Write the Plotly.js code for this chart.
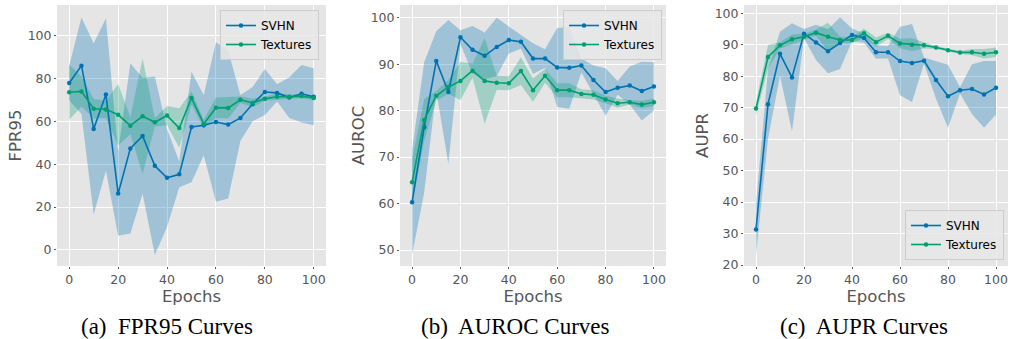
<!DOCTYPE html>
<html>
<head>
<meta charset="utf-8">
<script src="https://cdn.plot.ly/plotly-3.0.1.min.js"></script>
<style>html,body{margin:0;padding:0;background:#fff;}#chart{width:1011px;height:339px;}</style>
</head>
<body>
<div id="chart"></div>
<script>
const epochs = [0,5,10,15,20,25,30,35,40,45,50,55,60,65,70,75,80,85,90,95,100];

const fprSvhn     = [77.9,86.0,56.5,72.5,26.3,47.4,53.2,39.3,33.7,35.3,57.4,58.2,59.7,58.5,61.6,68.1,73.7,73.3,71.1,72.9,71.5];
const fprSvhnStd  = [8,22.5,40,35.5,19.6,39.7,27,41.6,22.8,6,25.8,14,37.2,34.5,10.7,8,10.7,4,9.5,13.4,13.3];
const fprTex      = [73.6,74.0,65.9,65.6,63.1,58.0,62.4,59.6,62.7,56.9,70.9,58.8,66.4,66.3,70.1,68.6,70.6,71.5,71.5,71.8,70.9];
const fprTexStd   = [12.8,7,4.6,4,14.3,4,26.9,2,4.5,9.2,3,2,4.8,5,1.5,2,1,1.5,1,1,1];

const aurocSvhn    = [60.3,76.4,90.7,84.0,95.8,93.1,91.8,93.7,95.2,94.8,91.2,91.2,89.3,89.2,89.7,86.6,84.0,84.9,85.4,84.2,85.2];
const aurocSvhnStd = [11.3,14,6.4,15.5,1.5,5.1,5,6.3,2.9,1.5,3.3,2,8.5,8.8,1.5,3.1,5.1,1.5,4.1,6.3,5.2];
const aurocTex     = [64.6,78.0,83.2,85.1,86.4,88.6,86.4,86.0,85.9,88.5,84.4,87.5,84.4,84.4,83.6,83.4,82.4,81.6,81.8,81.3,81.8];
const aurocTexStd  = [5,4.5,1,1.5,4.1,1.5,9.2,1.5,1.5,3,2.5,1.5,1.5,1.5,1,1,0.8,1,0.5,0.8,0.8];

const auprSvhn    = [31.3,71.1,87.1,79.6,93.5,90.7,87.9,90.5,93.1,92.1,87.6,87.6,84.8,84.2,84.9,78.8,73.6,75.5,75.9,74.2,76.3];
const auprSvhnStd = [8.1,11,7,17.2,1.5,5.6,7,8.2,2,1.5,2.1,2,10.9,12.4,1,6,10,1,7.9,10.6,8.5];
const auprTex     = [69.7,86.1,89.8,91.7,92.5,93.8,92.5,91.5,91.5,93.6,90.8,92.8,90.4,90.0,89.8,89.1,88.2,87.5,87.6,87.1,87.6];
const auprTexStd  = [2,3.8,1,1.5,1,1,4.5,1,1,1.5,1.5,1,1.5,2,1,0.5,0.5,0.5,1,1.5,1.5];

const seriesNames = ['SVHN', 'Textures'];
const captions = ['(a)  FPR95 Curves', '(b)  AUROC Curves', '(c)  AUPR Curves'];
const yTitles = ['FPR95', 'AUROC', 'AUPR'];

const BLUE = '#0072B2', GREEN = '#009E73';
const BLUE_FILL = 'rgba(0,114,178,0.3)', GREEN_FILL = 'rgba(0,158,115,0.3)';

const panels = [
  {mean:[fprSvhn, fprTex], std:[fprSvhnStd, fprTexStd]},
  {mean:[aurocSvhn, aurocTex], std:[aurocSvhnStd, aurocTexStd]},
  {mean:[auprSvhn, auprTex], std:[auprSvhnStd, auprTexStd]}
];

const traces = [];
panels.forEach((p, i) => {
  const xa = i === 0 ? 'x' : 'x' + (i + 1);
  const ya = i === 0 ? 'y' : 'y' + (i + 1);
  const lg = i === 0 ? 'legend' : 'legend' + (i + 1);
  const cols = [BLUE, GREEN], fills = [BLUE_FILL, GREEN_FILL];
  [0, 1].forEach(s => {
    const up = p.mean[s].map((v, k) => v + p.std[s][k]);
    const lo = p.mean[s].map((v, k) => v - p.std[s][k]);
    traces.push({
      x: epochs.concat(epochs.slice().reverse()),
      y: up.concat(lo.slice().reverse()),
      xaxis: xa, yaxis: ya, type: 'scatter', mode: 'lines',
      fill: 'toself', fillcolor: fills[s], line: {width: 0, color: fills[s]},
      hoverinfo: 'skip', showlegend: false
    });
  });
  [0, 1].forEach(s => {
    traces.push({
      x: epochs, y: p.mean[s], xaxis: xa, yaxis: ya, type: 'scatter',
      mode: 'lines+markers', name: seriesNames[s], legend: lg,
      line: {color: cols[s], width: 1.6}, marker: {color: cols[s], size: 4.5}
    });
  });
});

const W = 1011, H = 339;
const px = (a, b) => [a / W, b / W];
const py = (top, bot) => [(H - bot) / H, (H - top) / H];

const tickFont = {family: 'DejaVu Sans', size: 12.5, color: '#555555'};
const titleFont = {family: 'DejaVu Sans', size: 16.5, color: '#555555'};
const baseX = {
  range: [-5, 105], tickvals: [0, 20, 40, 60, 80, 100], showgrid: true, gridcolor: '#FFFFFF', gridwidth: 1,
  zeroline: false, showline: false, ticks: 'outside', ticklen: 2, tickcolor: '#555555', tickfont: tickFont,
  title: {text: 'Epochs', font: titleFont, standoff: 0}
};
const baseY = {
  showgrid: true, gridcolor: '#FFFFFF', gridwidth: 1, zeroline: false, showline: false,
  ticks: 'outside', ticklen: 2, tickcolor: '#555555', tickfont: tickFont
};

const legendBase = {
  bgcolor: 'rgba(232,232,232,0.85)', bordercolor: '#CCCCCC', borderwidth: 1,
  font: {family: 'DejaVu Sans', size: 12, color: '#000000'}, tracegroupgap: 0,
  itemwidth: 30
};

const layout = {
  width: W, height: H, margin: {l: 0, r: 0, t: 0, b: 0},
  paper_bgcolor: '#FFFFFF', plot_bgcolor: '#E5E5E5', showlegend: true,
  xaxis:  Object.assign({}, baseX, {domain: px(57, 326), anchor: 'y'}),
  xaxis2: Object.assign({}, baseX, {domain: px(400, 666), anchor: 'y2'}),
  xaxis3: Object.assign({}, baseX, {domain: px(744, 1008), anchor: 'y3'}),
  yaxis:  Object.assign({}, baseY, {domain: py(5, 266), anchor: 'x', range: [-7.47, 114.3], dtick: 20,
          title: {text: yTitles[0], font: titleFont, standoff: 1}}),
  yaxis2: Object.assign({}, baseY, {domain: py(5, 266), anchor: 'x2', range: [46.56, 102.73], dtick: 10,
          title: {text: yTitles[1], font: titleFont, standoff: 1}}),
  yaxis3: Object.assign({}, baseY, {domain: py(5, 266), anchor: 'x3', range: [19.7, 102.6], dtick: 10,
          title: {text: yTitles[2], font: titleFont, standoff: 1}}),
  legend:  Object.assign({}, legendBase, {x: 319 / W, y: 1 - 10 / H, xanchor: 'right', yanchor: 'top'}),
  legend2: Object.assign({}, legendBase, {x: 662 / W, y: 1 - 10 / H, xanchor: 'right', yanchor: 'top'}),
  legend3: Object.assign({}, legendBase, {x: 1004 / W, y: 1 - 260 / H, xanchor: 'right', yanchor: 'bottom'}),
  annotations: [
    {text: captions[0], x: 167 / W, y: 1 - 326 / H},
    {text: captions[1], x: 515 / W, y: 1 - 326 / H},
    {text: captions[2], x: 864 / W, y: 1 - 326 / H}
  ].map(a => Object.assign(a, {xref: 'paper', yref: 'paper', showarrow: false, xanchor: 'center', yanchor: 'middle',
        font: {family: 'Liberation Serif', size: 23, color: '#000000'}}))
};

Plotly.newPlot('chart', traces, layout, {displayModeBar: false, staticPlot: true});
</script>
</body>
</html>
